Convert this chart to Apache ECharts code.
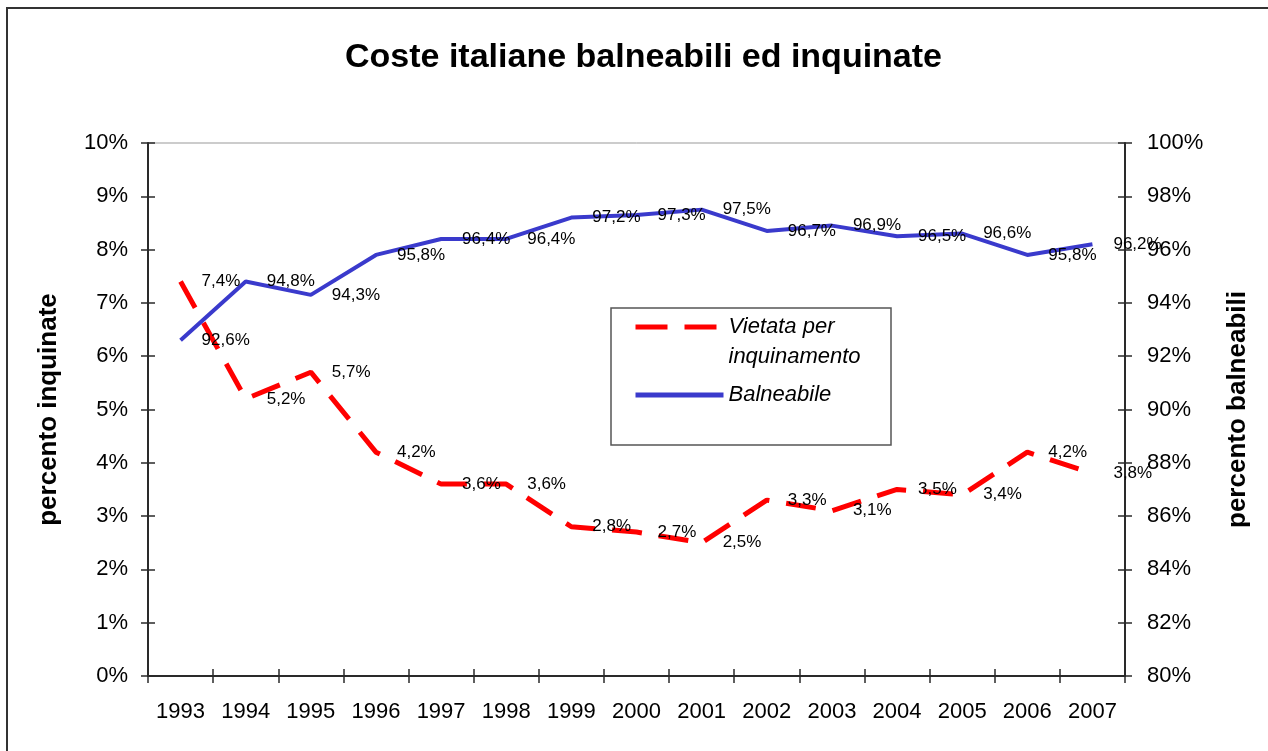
<!DOCTYPE html>
<html>
<head>
<meta charset="utf-8">
<script src="https://cdn.jsdelivr.net/npm/echarts@6/dist/echarts.min.js"></script>
<style>
  html, body { margin: 0; padding: 0; background: #fff; }
  #chart-container { width: 1268px; height: 751px; }
</style>
</head>
<body>
<div id="chart-container"></div>
<script>
const years = ["1993", "1994", "1995", "1996", "1997", "1998", "1999", "2000",
  "2001", "2002", "2003", "2004", "2005", "2006", "2007"];
// percentuale di costa vietata per inquinamento (asse sinistro)
const vietata = [7.4, 5.2, 5.7, 4.2, 3.6, 3.6, 2.8, 2.7, 2.5, 3.3, 3.1, 3.5, 3.4, 4.2, 3.8];
// percentuale di costa balneabile (asse destro)
const balneabile = [92.6, 94.8, 94.3, 95.8, 96.4, 96.4, 97.2, 97.3, 97.5, 96.7, 96.9, 96.5, 96.6, 95.8, 96.2];

const FONT = "Liberation Sans";
const nomeVietata = "Vietata per\ninquinamento";
const nomeBalneabile = "Balneabile";

const chart = echarts.init(document.getElementById("chart-container"));

function virgola(v) {
  return v.toFixed(1).replace(".", ",") + "%";
}

const axisLine = { show: true, lineStyle: { color: "#2a2a2a", width: 2 } };
const tick = { color: "#2a2a2a", width: 1.5 };

const legendText = {
  fontFamily: FONT,
  fontSize: 22,
  fontStyle: "italic",
  lineHeight: 30,
  color: "#000",
};

const labelStyle = {
  show: true,
  position: "right",
  distance: 20,
  fontFamily: FONT,
  fontSize: 17,
  color: "#000",
  opacity: 1,
  formatter: (p) => virgola(p.value),
};

const option = {
  animation: false,
  backgroundColor: "#fff",
  textStyle: { fontFamily: FONT, color: "#000" },
  title: {
    text: "Coste italiane balneabili ed inquinate",
    left: 345,
    top: 41,
    padding: 0,
    textStyle: { fontFamily: FONT, fontSize: 34, fontWeight: "bold", color: "#000" },
  },
  grid: {
    left: 148,
    right: 143,
    top: 143,
    bottom: 75,
    show: true,
    borderColor: "#999",
    borderWidth: 1,
    backgroundColor: "transparent",
  },
  graphic: [
    {
      type: "rect",
      shape: { x: 7, y: 8, width: 1300, height: 800 },
      style: { fill: "none", stroke: "#333", lineWidth: 2 },
      silent: true,
    },
    {
      type: "rect",
      z: 3,
      shape: { x: 611, y: 308, width: 280, height: 137 },
      style: { fill: "#fff", stroke: "#555", lineWidth: 1.5 },
      silent: true,
    },
  ],
  legend: [
    {
      data: [nomeVietata],
      orient: "vertical",
      left: 633,
      top: 282,
      padding: 0,
      itemWidth: 88,
      itemHeight: 14,
      // riga vuota in testa: la prima riga del testo resta all'altezza del simbolo
      formatter: (n) => "\n" + n,
      lineStyle: { width: 5, type: [32, 17], color: "#ff0000" },
      textStyle: legendText,
    },
    {
      data: [nomeBalneabile],
      orient: "vertical",
      left: 633,
      top: 380,
      padding: 0,
      itemWidth: 88,
      itemHeight: 14,
      lineStyle: { width: 5, color: "#3a3acc" },
      textStyle: legendText,
    },
  ],
  xAxis: [
    {
      type: "category",
      data: years,
      boundaryGap: true,
      axisLine: axisLine,
      axisTick: { show: true, length: 7, lineStyle: tick },
      axisLabel: { fontFamily: FONT, fontSize: 22, color: "#000", margin: 25 },
      splitLine: { show: false },
    },
    {
      type: "category",
      data: years,
      position: "bottom",
      boundaryGap: true,
      axisLine: { show: false },
      axisTick: { show: true, inside: true, length: 7, lineStyle: tick },
      axisLabel: { show: false },
      splitLine: { show: false },
    },
  ],
  yAxis: [
    {
      type: "value",
      position: "left",
      min: 0,
      max: 10,
      interval: 1,
      name: "percento inquinate",
      nameLocation: "middle",
      nameRotate: 90,
      nameGap: 86,
      nameTextStyle: { fontFamily: FONT, fontSize: 26, fontWeight: "bold", color: "#000" },
      axisLine: axisLine,
      axisTick: { show: true, length: 7, lineStyle: tick },
      axisLabel: { fontFamily: FONT, fontSize: 22, color: "#000", margin: 20, formatter: "{value}%" },
      splitLine: { show: false },
    },
    {
      type: "value",
      position: "right",
      min: 80,
      max: 100,
      interval: 2,
      name: "percento balneabili",
      nameLocation: "middle",
      nameRotate: 90,
      nameGap: 100,
      nameTextStyle: { fontFamily: FONT, fontSize: 26, fontWeight: "bold", color: "#000" },
      axisLine: axisLine,
      axisTick: { show: true, length: 7, lineStyle: tick },
      axisLabel: { fontFamily: FONT, fontSize: 22, color: "#000", margin: 22, formatter: "{value}%" },
      splitLine: { show: false },
    },
    {
      type: "value",
      position: "left",
      min: 0,
      max: 10,
      interval: 1,
      axisLine: { show: false },
      axisTick: { show: true, inside: true, length: 7, lineStyle: tick },
      axisLabel: { show: false },
      splitLine: { show: false },
    },
    {
      type: "value",
      position: "right",
      min: 80,
      max: 100,
      interval: 2,
      axisLine: { show: false },
      axisTick: { show: true, inside: true, length: 7, lineStyle: tick },
      axisLabel: { show: false },
      splitLine: { show: false },
    },
  ],
  series: [
    {
      name: nomeVietata,
      type: "line",
      xAxisIndex: 0,
      yAxisIndex: 0,
      data: vietata,
      symbol: "circle",
      symbolSize: 2,
      itemStyle: { color: "rgba(255,0,0,0)" },
      lineStyle: { color: "#ff0000", width: 5, type: [30, 17] },
      label: labelStyle,
      z: 2,
    },
    {
      name: nomeBalneabile,
      type: "line",
      xAxisIndex: 0,
      yAxisIndex: 1,
      data: balneabile,
      symbol: "circle",
      symbolSize: 2,
      itemStyle: { color: "rgba(58,58,204,0)" },
      lineStyle: { color: "#3a3acc", width: 4 },
      label: labelStyle,
      z: 2,
    },
  ],
};

chart.setOption(option);
</script>
</body>
</html>
